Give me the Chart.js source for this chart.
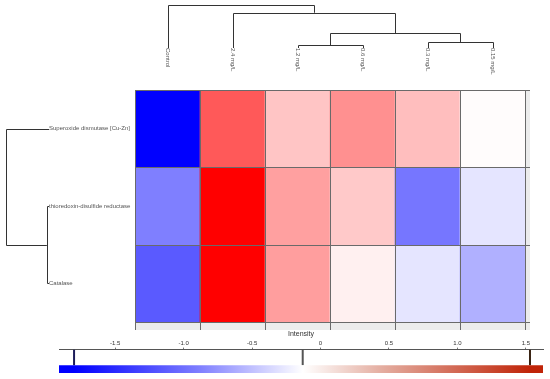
<!DOCTYPE html>
<html>
<head>
<meta charset="utf-8">
<script src="https://cdn.jsdelivr.net/npm/chart.js@4/dist/chart.umd.min.js"></script>
<style>
  html, body { margin: 0; padding: 0; background: #fff; }
  #wrap { position: relative; width: 550px; height: 379px; overflow: hidden; }
  #heat { position: absolute; left: 0; top: 0; }
  #bar { position: absolute; left: 0; top: 325px; }
</style>
</head>
<body>
<div id="wrap">
  <canvas id="heat" width="550" height="379"></canvas>
  <canvas id="bar" width="550" height="54"></canvas>
</div>
<script>
// columns (samples) and rows (proteins)
const columns = ['Control', '2.4 mg/L', '1.2 mg/L', '0.6 mg/L', '0.3 mg/L', '0.15 mg/L'];
const proteins = ['Superoxide dismutase [Cu-Zn]', 'thioredoxin-disulfide reductase', 'Catalase'];

// intensity per protein, same order as columns
const sodValues = [-1.8, 0.95, 0.25, 0.59, 0.29, -0.11];
const trxrValues = [-0.97, 1.53, 0.49, 0.22, -1.03, -0.30];
const catValues = [-1.21, 1.53, 0.50, -0.03, -0.30, -0.65];
const rowValues = [sodValues, trxrValues, catValues];

// dendrograms: [childA, childB, height], new node ids continue after the leaves
const colMerges = [[2, 3, 0.07], [4, 5, 0.14], [6, 7, 0.34], [1, 8, 0.82], [0, 9, 1.0]];
const rowMerges = [[1, 2, 0.05], [0, 3, 1.0]];

// colour key
const keyMarkers = [-1.8, -0.13, 1.53];
const intensityTicks = [-1.5, -1, -0.5, 0, 0.5, 1, 1.5];
const keyMin = -1.91, keyMax = 1.625;

const scaleMin = keyMarkers[0], scaleMid = keyMarkers[1], scaleMax = keyMarkers[2];

Chart.defaults.font.family = '"Liberation Sans", Arial, sans-serif';

function heatColor(v) {
  if (v <= scaleMid) {
    const t = Math.max(0, (v - scaleMin) / (scaleMid - scaleMin));
    const c = Math.round(255 * t);
    return `rgb(${c},${c},255)`;
  }
  const t = Math.min(1, (v - scaleMid) / (scaleMax - scaleMid));
  const c = Math.round(255 * (1 - t));
  return `rgb(255,${c},${c})`;
}

const px = v => Math.round(v) + 0.5;

// grey strip + grid lines around the cells
const gridPlugin = {
  id: 'grid',
  beforeDatasetsDraw(chart) {
    const { ctx, chartArea: a } = chart;
    ctx.save();
    ctx.fillStyle = '#ececec';
    ctx.fillRect(a.left, a.top, a.right - a.left + 5, a.bottom - a.top + 8);
    ctx.restore();
  },
  afterDatasetsDraw(chart) {
    const { ctx, chartArea: a, scales } = chart;
    ctx.save();
    ctx.strokeStyle = '#6a6a6a';
    ctx.lineWidth = 1;
    ctx.beginPath();
    const half = (scales.x.getPixelForValue(1) - scales.x.getPixelForValue(0)) / 2;
    for (let i = 0; i <= columns.length; i++) {
      const x = i < columns.length ? scales.x.getPixelForValue(i) - half : a.right;
      ctx.moveTo(px(x), a.top);
      ctx.lineTo(px(x), a.bottom + 8);
    }
    for (let r = 0; r <= proteins.length; r++) {
      const y = scales.y.getPixelForValue(r);
      ctx.moveTo(a.left, px(y));
      ctx.lineTo(a.right + 5, px(y));
    }
    ctx.stroke();
    ctx.restore();
  }
};

// column and row dendrograms with their labels
const treePlugin = {
  id: 'trees',
  afterDraw(chart) {
    const { ctx, chartArea: a, scales } = chart;
    ctx.save();
    ctx.strokeStyle = '#333';
    ctx.lineWidth = 1;

    // top tree
    const baseY = a.top - 42, spanY = 43;
    const hy = h => baseY - h * spanY;
    let pos = columns.map((c, i) => scales.x.getPixelForValue(i));
    let hts = columns.map(() => 0);
    ctx.beginPath();
    colMerges.forEach(([p, q, h]) => {
      ctx.moveTo(px(pos[p]), hy(hts[p]));
      ctx.lineTo(px(pos[p]), px(hy(h)));
      ctx.lineTo(px(pos[q]), px(hy(h)));
      ctx.lineTo(px(pos[q]), hy(hts[q]));
      pos.push((pos[p] + pos[q]) / 2);
      hts.push(h);
    });
    ctx.stroke();

    // left tree
    const baseX = a.left - 86, spanX = 43;
    const hx = h => baseX - h * spanX;
    pos = proteins.map((p, i) => scales.y.getPixelForValue(i + 0.5));
    hts = proteins.map(() => 0);
    ctx.beginPath();
    rowMerges.forEach(([p, q, h]) => {
      ctx.moveTo(hx(hts[p]), px(pos[p]));
      ctx.lineTo(px(hx(h)), px(pos[p]));
      ctx.lineTo(px(hx(h)), px(pos[q]));
      ctx.lineTo(hx(hts[q]), px(pos[q]));
      pos.push((pos[p] + pos[q]) / 2);
      hts.push(h);
    });
    ctx.stroke();

    // labels
    ctx.fillStyle = '#555';
    ctx.font = '6px "Liberation Sans", Arial, sans-serif';
    ctx.textBaseline = 'middle';
    ctx.textAlign = 'left';
    proteins.forEach((p, i) => {
      ctx.fillText(p, baseX, scales.y.getPixelForValue(i + 0.5));
    });
    columns.forEach((c, i) => {
      ctx.save();
      ctx.translate(scales.x.getPixelForValue(i), baseY);
      ctx.rotate(Math.PI / 2);
      ctx.fillText(c, 0, 0);
      ctx.restore();
    });
    ctx.restore();
  }
};

new Chart(document.getElementById('heat'), {
  type: 'bar',
  data: {
    labels: columns,
    datasets: rowValues.map((vals, r) => ({
      label: proteins[r],
      data: vals.map(() => [r, r + 1]),
      backgroundColor: vals.map(heatColor),
      borderWidth: 0,
      barPercentage: 1,
      categoryPercentage: 1,
      grouped: false
    }))
  },
  options: {
    responsive: false,
    animation: false,
    layout: { padding: { left: 135, top: 90, right: 25, bottom: 57 } },
    plugins: { legend: { display: false }, tooltip: { enabled: false } },
    scales: {
      x: { display: false },
      y: { display: false, min: 0, max: proteins.length, reverse: true }
    }
  },
  plugins: [gridPlugin, treePlugin]
});

function keyGradient(context) {
  const { chart } = context;
  const { ctx, chartArea, scales } = chart;
  if (!chartArea) return 'rgba(0,0,0,0)';
  const x0 = scales.x.getPixelForValue(scaleMin);
  const x1 = scales.x.getPixelForValue(scaleMax);
  const g = ctx.createLinearGradient(x0, 0, x1, 0);
  const mid = (scaleMid - scaleMin) / (scaleMax - scaleMin);
  g.addColorStop(0, '#0000ff');
  g.addColorStop(mid * 0.55, '#7f7fff');
  g.addColorStop(mid, '#ffffff');
  g.addColorStop(mid + (1 - mid) * 0.35, '#e4ada0');
  g.addColorStop(1, '#c02408');
  return g;
}

const markerColors = ['#1c1c5a', '#555555', '#3a2414'];

new Chart(document.getElementById('bar'), {
  type: 'scatter',
  data: {
    datasets: [
      { data: [{ x: keyMin, y: 0 }, { x: keyMax, y: 0 }], showLine: true, borderWidth: 0, pointRadius: 0, fill: false },
      { data: [{ x: keyMin, y: 0.33 }, { x: keyMax, y: 0.33 }], showLine: true, borderWidth: 0, pointRadius: 0, fill: '-1', backgroundColor: keyGradient },
      ...keyMarkers.map((v, i) => ({
        data: [{ x: v, y: 0.33 }, { x: v, y: 1 }],
        showLine: true, pointRadius: 0, borderWidth: 2, borderColor: markerColors[i], fill: false
      }))
    ]
  },
  options: {
    responsive: false,
    animation: false,
    layout: { padding: { left: 59, right: 7, top: 5, bottom: 6 } },
    plugins: { legend: { display: false }, tooltip: { enabled: false } },
    scales: {
      x: {
        type: 'linear',
        position: 'top',
        min: keyMin,
        max: keyMax,
        afterBuildTicks: s => { s.ticks = intensityTicks.map(v => ({ value: v })); },
        ticks: { font: { size: 6 }, color: '#333', padding: 1, maxRotation: 0, autoSkip: false },
        grid: { drawOnChartArea: false, tickLength: 2, color: '#777' },
        border: { color: '#555' },
        title: { display: true, text: 'Intensity', font: { size: 7 }, color: '#333', padding: { top: 0, bottom: 0 } }
      },
      y: { display: false, min: 0, max: 1 }
    }
  }
});
</script>
</body>
</html>
